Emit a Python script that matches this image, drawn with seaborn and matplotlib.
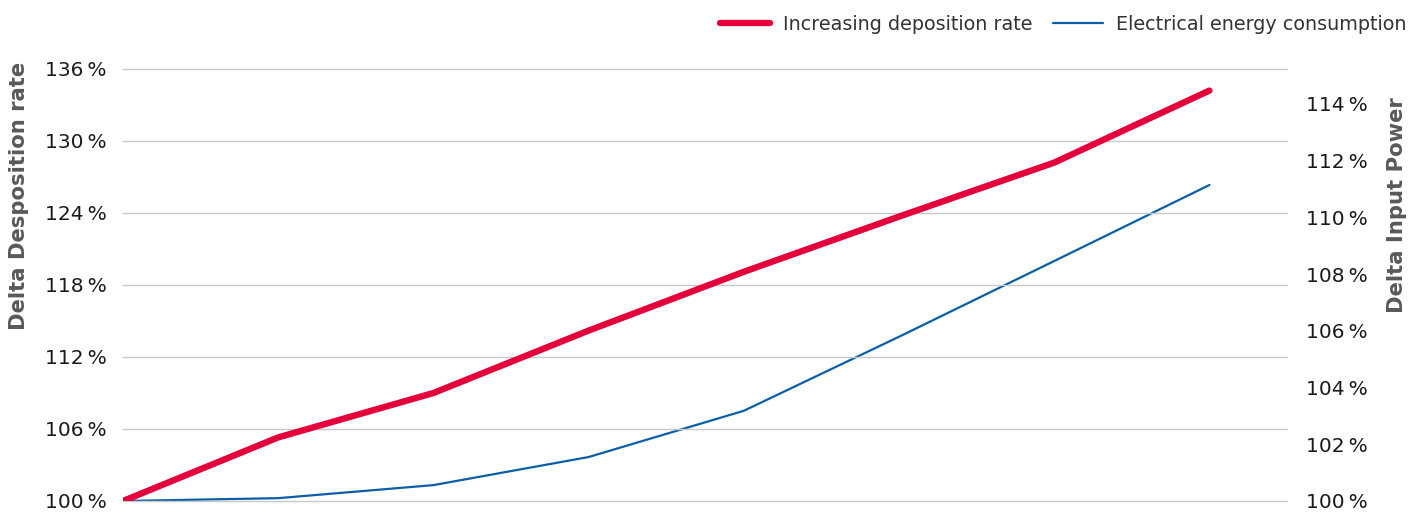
import matplotlib
matplotlib.use("Agg")
import matplotlib.pyplot as plt
import seaborn as sns
import pandas as pd

# Data
steps = [0, 1, 2, 3, 4, 5, 6, 7]
deposition_rate = [100.0, 105.3, 109.0, 114.2, 119.1, 123.7, 128.2, 134.2]
energy_consumption = [100.0, 100.1, 100.56, 101.55, 103.18, 105.79, 108.46, 111.14]
left_ticks = [100, 106, 112, 118, 124, 130, 136]
right_ticks = [100, 102, 104, 106, 108, 110, 112, 114]
series_names = ["Increasing deposition rate", "Electrical energy consumption"]

sns.set_theme(style="white")
plt.rcParams["font.family"] = ["DejaVu Sans"]

RED = "#E4003B"
BLUE = "#0B5EA8"
GRID = "#C8C8C8"
TXT = "#1A1A1A"
LAB = "#595959"

fig = plt.figure(figsize=(14.24, 5.14), dpi=100)
ax = fig.add_axes([123 / 1424, 1 - 501 / 514, (1287 - 123) / 1424, 432 / 514])
ax2 = ax.twinx()

df1 = pd.DataFrame({"step": steps, "value": deposition_rate})
df2 = pd.DataFrame({"step": steps, "value": energy_consumption})

sns.lineplot(data=df1, x="step", y="value", ax=ax, color=RED, linewidth=4.6,
             solid_capstyle="round", label=series_names[0], legend=False, zorder=3)
sns.lineplot(data=df2, x="step", y="value", ax=ax2, color=BLUE, linewidth=1.6,
             label=series_names[1], legend=False)

ax.set_xlim(0, 7.5)
ax.set_ylim(100, 136)
ax2.set_ylim(100, 115.23)

ax.set_yticks(left_ticks)
ax.set_yticklabels([f"{v}\u202f%" for v in left_ticks])
ax2.set_yticks(right_ticks)
ax2.set_yticklabels([f"{v}\u202f%" for v in right_ticks])

ax.set_xticks([])
ax.set_xlabel("")
ax2.set_xlabel("")

ax.grid(axis="y", color=GRID, linewidth=1.0)
ax.grid(axis="x", visible=False)
ax2.grid(False)
for gl in ax.get_ygridlines():
    gl.set_clip_on(False)
ax.set_axisbelow(True)
ax.set_zorder(ax2.get_zorder() + 1)
ax.patch.set_visible(False)

for a in (ax, ax2):
    for s in a.spines.values():
        s.set_visible(False)

ax.tick_params(axis="y", length=0, pad=12, labelsize=14.5, labelcolor=TXT)
ax2.tick_params(axis="y", length=0, pad=14, labelsize=14.5, labelcolor=TXT)

ax.set_ylabel("Delta Desposition rate", fontsize=15.2, fontweight="bold", color=LAB)
ax.yaxis.set_label_coords(-0.0893, 0.706)
ax.yaxis.label.set_va("center")
ax.yaxis.label.set_ha("center")

ax2.set_ylabel("Delta Input Power", fontsize=15.2, fontweight="bold", color=LAB, rotation=90)
ax2.yaxis.set_label_coords(1.0945, 0.685)
ax2.yaxis.label.set_va("center")
ax2.yaxis.label.set_ha("center")

h1, l1 = ax.get_legend_handles_labels()
h2, l2 = ax2.get_legend_handles_labels()
leg = fig.legend(h1 + h2, l1 + l2, loc="center right", bbox_to_anchor=(0.988, 0.953),
                 ncol=2, frameon=False, fontsize=13.8, handlelength=2.6,
                 handletextpad=0.72, columnspacing=1.04, borderpad=0, borderaxespad=0)
for t in leg.get_texts():
    t.set_color("#333333")

fig.savefig("out.png", dpi=100)
